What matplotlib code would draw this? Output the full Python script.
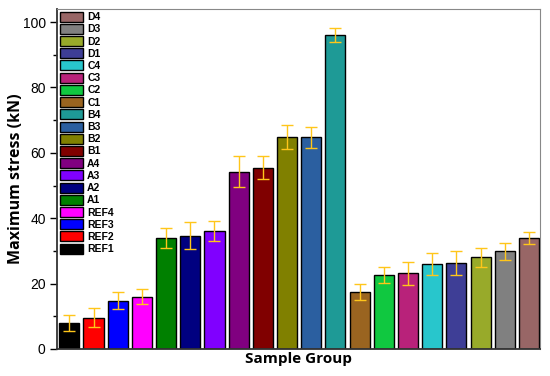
import numpy as np
import matplotlib.pyplot as plt
from matplotlib.patches import Patch

groups = ['REF1', 'REF2', 'REF3', 'REF4', 'A1', 'A2', 'A3', 'A4',
          'B1', 'B2', 'B3', 'B4', 'C1', 'C2', 'C3', 'C4',
          'D1', 'D2', 'D3', 'D4']
stress = [8.0, 9.6, 14.7, 16.0, 33.9, 34.7, 36.0, 54.2,
          55.5, 64.8, 64.8, 96.1, 17.4, 22.7, 23.2, 25.9,
          26.3, 28.1, 29.9, 34.0]
err = [2.5, 3.0, 2.6, 2.2, 3.1, 4.0, 3.0, 4.8,
       3.5, 3.6, 3.2, 2.2, 2.5, 2.4, 3.5, 3.3,
       3.8, 2.9, 2.6, 1.9]
colors = ['#000000', '#FF0000', '#0000FF', '#FF00FF', '#008000', '#000080',
          '#8000FF', '#800080', '#800000', '#808000', '#2B5FA0', '#1E9A96',
          '#9A6420', '#10C840', '#B8227A', '#28C6CC', '#3E3E96', '#98AA2A',
          '#808080', '#986666']

fig = plt.figure(figsize=(5.5, 3.76), dpi=100)
ax = fig.add_axes([0.1045, 0.072, 0.8775, 0.904])

x = np.arange(len(groups))
ax.bar(x, stress, width=0.83, color=colors, edgecolor='black', linewidth=1.0, zorder=2)
ax.errorbar(x, stress, yerr=err, fmt='none', ecolor='#FFC61A', elinewidth=1.0,
            capsize=4.3, capthick=1.0, zorder=3)

ax.set_xlim(-0.49, 19.46)
ax.set_ylim(0, 104)
ax.set_yticks([0, 20, 40, 60, 80, 100])
ax.set_yticks([10, 30, 50, 70, 90], minor=True)
ax.set_xticks([])
ax.tick_params(axis='y', which='major', length=5, width=1, labelsize=10, direction='out')
ax.tick_params(axis='y', which='minor', length=3, width=1, direction='out')
for lab in ax.get_yticklabels():
    lab.set_family('Liberation Sans')

ax.spines['left'].set_color('#333333')
ax.spines['bottom'].set_color('#333333')
ax.spines['left'].set_linewidth(1.3)
ax.spines['bottom'].set_linewidth(1.3)
ax.spines['top'].set_color('#888888')
ax.spines['right'].set_color('#888888')

ax.set_xlabel('Sample Group', fontsize=11, fontweight='bold', family='Open Sans', labelpad=2)
ax.set_ylabel('Maximum stress (kN)', fontsize=11.5, fontweight='bold', family='Open Sans', labelpad=-1)

handles = [Patch(facecolor=c, edgecolor='black', linewidth=1.0) for c in colors][::-1]
leg = ax.legend(handles, groups[::-1], loc='upper left', frameon=False,
                prop={'size': 7.5, 'weight': 'bold', 'family': 'Liberation Sans'},
                handlelength=2.2, handleheight=1.1, labelspacing=0.16,
                handletextpad=0.4, borderaxespad=0.0, borderpad=0.25)

fig.savefig('out.png', dpi=100)
